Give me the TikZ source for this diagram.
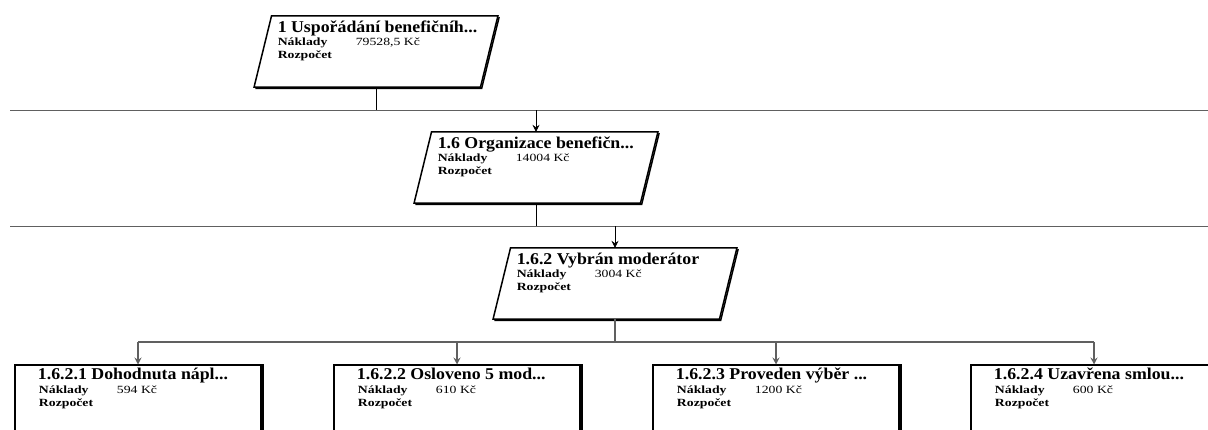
\documentclass[tikz,border=0pt]{standalone}
\usepackage{fontspec}
\newfontfamily\wbsfont[FakeStretch=1.25]{Liberation Serif}
\newfontfamily\wbshead[FakeStretch=1.08]{Liberation Serif}
\usetikzlibrary{calc,arrows.meta}

% slanted work-package box: #1 name, #2 centre, #3 title, #4 cost
\newcommand\wbspara[4]{%
  \node[holder] (#1) at #2 {};
  \draw[frame] (#1.north west) -- ($(#1.north east)+(17.5,0)$) -- (#1.south east)
        -- ($(#1.south west)+(-17.5,0)$) -- cycle;
  \draw[frame] ($(#1.north east)+(18.7,1.2)$) -- ($(#1.south east)+(1.2,1.2)$)
        -- ($(#1.south west)+(-16.3,1.2)$);
  \node[title] (#1-t) at ($(#1.north west)+(6,17)$) {#3};
  \node[lbl] (#1-n) at ($(#1.north west)+(6,30)$) {Náklady};
  \node[val] (#1-v) at ($(#1.north west)+(84,30)$) {#4};
  \node[lbl] (#1-r) at ($(#1.north west)+(6,43)$) {Rozpočet};
}
% plain leaf box: #1 name, #2 top centre, #3 title, #4 cost
\newcommand\wbsleaf[4]{%
  \node[leaf] (#1) at #2 {};
  \draw[frame] ($(#1.north east)+(1.2,0)$) -- ($(#1.south east)+(1.2,0)$);
  \node[title] (#1-t) at ($(#1.north west)+(23.5,15.5)$) {#3};
  \node[lbl] (#1-n) at ($(#1.north west)+(24.5,29)$) {Náklady};
  \node[val] (#1-v) at ($(#1.north west)+(102.5,29)$) {#4};
  \node[lbl] (#1-r) at ($(#1.north west)+(24.5,42)$) {Rozpočet};
}

\begin{document}
\begin{tikzpicture}[x=1pt,y=-1pt,
  frame/.style={line width=1.5pt, line join=miter},
  title/.style={anchor=base west, inner sep=0pt, font=\wbshead\fontsize{16.5}{18}\selectfont\bfseries},
  lbl/.style={anchor=base west, inner sep=0pt, font=\wbsfont\fontsize{11}{13}\selectfont\bfseries},
  val/.style={anchor=base west, inner sep=0pt, font=\wbsfont\fontsize{11}{13}\selectfont},
  level/.style={draw=gray!75!black, line width=1.6pt},
  link/.style={draw=black, line width=0.7pt},
  feed/.style={link, -{Stealth[length=7pt,width=7pt,inset=2.5pt]}},
  holder/.style={minimum width=208.5pt, minimum height=71pt, inner sep=0pt},
  leaf/.style={draw, line width=1.5pt, anchor=north, minimum width=246pt, minimum height=90pt, inner sep=0pt}
]
\useasboundingbox (0,0) rectangle (1208,430);
\clip (0,0) rectangle (1208,430);

\wbspara{b1}{(376,51.5)}{1 Uspořádání benefičníh...}{79528,5 Kč}
\wbspara{b2}{(536,167.5)}{1.6 Organizace benefičn...}{14004 Kč}
\wbspara{b3}{(615,283.5)}{1.6.2 Vybrán moderátor}{3004 Kč}

\wbsleaf{c1}{(138,364.5)}{1.6.2.1 Dohodnuta nápl...}{594 Kč}
\wbsleaf{c2}{(457,364.5)}{1.6.2.2 Osloveno 5 mod...}{610 Kč}
\wbsleaf{c3}{(776,364.5)}{1.6.2.3 Proveden výběr ...}{1200 Kč}
\wbsleaf{c4}{(1094,364.5)}{1.6.2.4 Uzavřena smlou...}{600 Kč}

% level rules
\coordinate (l1a) at (10,110.5);
\coordinate (l1b) at (1208,110.5);
\coordinate (l2a) at (10,226.5);
\coordinate (l2b) at (1208,226.5);
\coordinate (bus) at (0,342);
\draw[level] (l1a) -- (l1b);
\draw[level] (l2a) -- (l2b);

\draw[link] (b1.south) -- (b1.south |- l1a);
\draw[feed] (b2.north |- l1a) -- (b2.north);
\draw[link] (b2.south) -- (b2.south |- l2a);
\draw[feed] (b3.north |- l2a) -- (b3.north);

\draw[level, line width=1.2pt] (b3.south) -- (b3.south |- bus);
\draw[level] (c1.north |- bus) -- (c4.north |- bus);
\foreach \c in {c1,c2,c3,c4}
  \draw[feed, draw=gray!75!black, line width=1.2pt] (\c.north |- bus) -- (\c.north);
\end{tikzpicture}
\end{document}
